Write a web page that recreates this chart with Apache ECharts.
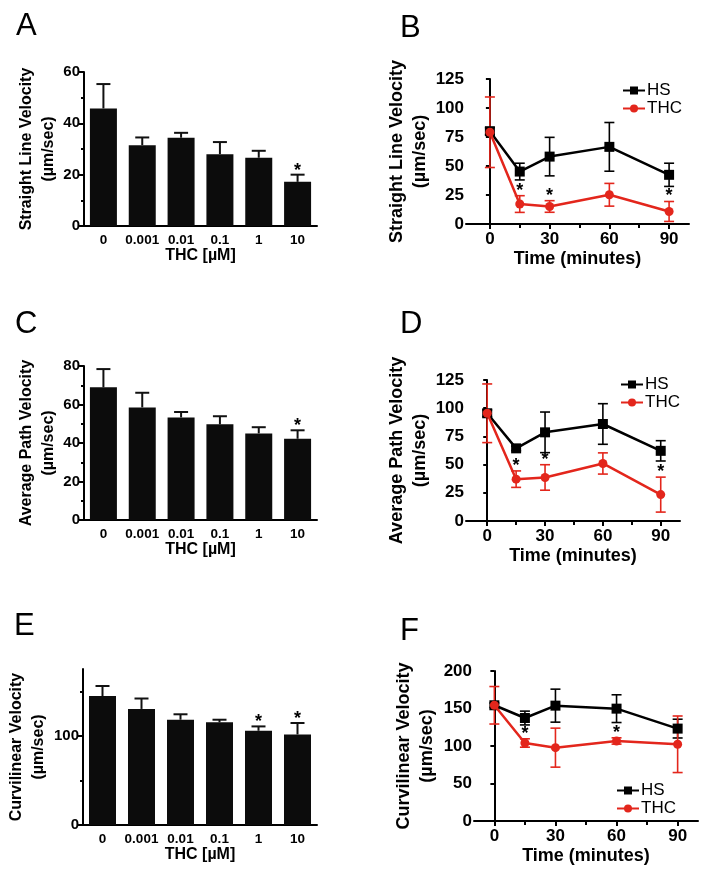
<!DOCTYPE html>
<html><head><meta charset="utf-8">
<script src="https://cdn.jsdelivr.net/npm/echarts@6/dist/echarts.min.js"></script>
<style>html,body{margin:0;padding:0;background:#fff}#c{width:709px;height:885px}</style>
</head><body><div id="c"></div>
<script>
// ---- data ----
const doseCats = ['0', '0.001', '0.01', '0.1', '1', '10'];
// A: straight line velocity vs dose
const slvMean = [45.8, 31.5, 34.4, 28.0, 26.6, 17.2];
const slvErr  = [9.5, 3.0, 1.9, 4.7, 2.7, 2.8];
const slvSig  = [0, 0, 0, 0, 0, 1];
// C: average path velocity vs dose
const apvMean = [68.9, 58.5, 53.3, 49.7, 45.0, 42.2];
const apvErr  = [9.5, 7.6, 2.8, 4.2, 3.2, 4.4];
const apvSig  = [0, 0, 0, 0, 0, 1];
// E: curvilinear velocity vs dose
const vclMean = [144.6, 130.2, 118.1, 115.2, 105.7, 101.6];
const vclErr  = [11.3, 11.7, 6.1, 2.9, 4.9, 12.8];
const vclSig  = [0, 0, 0, 0, 1, 1];

const timePts = [0, 15, 30, 60, 90];
// B: straight line velocity vs time
const slvHS     = [80.0, 45.2, 58.1, 66.5, 42.4];
const slvHSErr  = [3, 7.2, 16.6, 21.0, 10.0];
const slvTHC    = [79.1, 17.2, 15.1, 25.2, 10.8];
const slvTHCErr = [30.4, 7.2, 5.0, 9.8, 8.6];
const slvTSig   = [0, 1, 1, 0, 1];
// D: average path velocity vs time
const apvHS     = [95.5, 64.4, 78.6, 86.0, 62.2];
const apvHSErr  = [3, 2, 18.0, 18.0, 9.0];
const apvTHC    = [95.5, 37.1, 38.6, 51.0, 23.4];
const apvTHCErr = [26.0, 7.3, 11.3, 9.4, 15.5];
const apvTSig   = [0, 1, 1, 0, 1];
// F: curvilinear velocity vs time
const vclHS     = [154.3, 137.3, 153.8, 149.8, 123.2];
const vclHSErr  = [3, 9.2, 22.0, 18.5, 12.5];
const vclTHC    = [154.3, 104.0, 97.8, 106.7, 102.3];
const vclTHCErr = [25.0, 5.6, 26.0, 4.2, 37.7];
const vclTSig   = [0, 1, 0, 1, 0];

const timeTicks = [0, 30, 60, 90];
const timeMinor = [15, 45, 75];

// ---- build ----
const FONT = '"Liberation Sans", Arial, Helvetica, sans-serif';
const RED = '#e3261c';
const grids = [], xAxes = [], yAxes = [], series = [];

function barErrRender(params, api) {
  const x = api.value(0), m = api.value(1), hi = api.value(2), s = api.value(3);
  const p0 = api.coord([x, m]), p1 = api.coord([x, hi]);
  const ch = [
    {type: 'line', shape: {x1: p0[0], y1: p0[1], x2: p1[0], y2: p1[1]}, style: {stroke: '#111', lineWidth: 2}},
    {type: 'line', shape: {x1: p1[0] - 7, y1: p1[1], x2: p1[0] + 7, y2: p1[1]}, style: {stroke: '#111', lineWidth: 2}}
  ];
  if (s) ch.push({type: 'text', style: {text: '*', x: p1[0], y: p1[1] + 5, fill: '#000', font: 'bold 18px ' + FONT, textAlign: 'center', textVerticalAlign: 'bottom'}});
  return {type: 'group', children: ch};
}
function lineErrRender(color) {
  return function (params, api) {
    const x = api.value(0), lo = api.value(1), hi = api.value(2), s = api.value(3);
    const p0 = api.coord([x, lo]), p1 = api.coord([x, hi]);
    const st = {stroke: color, lineWidth: 1.6};
    const ch = [
      {type: 'line', shape: {x1: p0[0], y1: p0[1], x2: p1[0], y2: p1[1]}, style: st},
      {type: 'line', shape: {x1: p0[0] - 5, y1: p0[1], x2: p0[0] + 5, y2: p0[1]}, style: st},
      {type: 'line', shape: {x1: p1[0] - 5, y1: p1[1], x2: p1[0] + 5, y2: p1[1]}, style: st}
    ];
    if (s) ch.push({type: 'text', style: {text: '*', x: p1[0], y: p1[1] + 4, fill: '#000', font: 'bold 18px ' + FONT, textAlign: 'center', textVerticalAlign: 'bottom'}});
    return {type: 'group', children: ch};
  };
}

const axLine = {show: true, lineStyle: {color: '#000', width: 2}};

function barPanel(g, yName, ymax, labels, minor, mean, err, sig, nameGap) {
  const gi = grids.length;
  grids.push(g);
  const xi = xAxes.length;
  xAxes.push({
    type: 'category', gridIndex: gi, data: doseCats,
    axisLine: axLine, axisTick: {show: false},
    axisLabel: {interval: 0, fontSize: 13.5, fontWeight: 'bold', color: '#000', margin: 7, fontFamily: FONT},
    name: 'THC [µM]', nameLocation: 'middle', nameGap: 22,
    nameTextStyle: {fontSize: 16, fontWeight: 'bold', color: '#000', fontFamily: FONT}
  });
  const yi = yAxes.length;
  yAxes.push({
    type: 'value', gridIndex: gi, min: 0, max: ymax, position: 'left',
    axisLine: axLine,
    axisTick: {show: true, length: 5, lineStyle: {color: '#000', width: 2}, customValues: labels},
    axisLabel: {customValues: labels, fontSize: 15, fontWeight: 'bold', color: '#000', margin: 4, fontFamily: FONT},
    splitLine: {show: false},
    name: yName, nameLocation: 'middle', nameGap: nameGap,
    nameTextStyle: {fontSize: 16, fontWeight: 'bold', color: '#000', lineHeight: 22, fontFamily: FONT}
  });
  yAxes.push({
    type: 'value', gridIndex: gi, min: 0, max: ymax, position: 'left',
    axisLine: {show: false},
    axisTick: {show: true, length: 3, lineStyle: {color: '#000', width: 2}, customValues: minor},
    axisLabel: {show: false}, splitLine: {show: false}
  });
  series.push({type: 'bar', xAxisIndex: xi, yAxisIndex: yi, data: mean, barWidth: 27,
    itemStyle: {color: '#0c0c0c'}, z: 2});
  series.push({type: 'custom', xAxisIndex: xi, yAxisIndex: yi, z: 3,
    data: mean.map((m, i) => [i, m, m + err[i], sig[i]]), renderItem: barErrRender});
}

function linePanel(g, yName, xmin, ymax, yticks, hs, hsErr, thc, thcErr, sig, nameGap) {
  const gi = grids.length;
  grids.push(g);
  const xi = xAxes.length;
  xAxes.push({
    type: 'value', gridIndex: gi, min: xmin, max: 100, position: 'bottom',
    axisLine: axLine,
    axisTick: {show: true, length: 5, lineStyle: {color: '#000', width: 2}, customValues: timeTicks},
    axisLabel: {customValues: timeTicks, fontSize: 17, fontWeight: 'bold', color: '#000', margin: 7, fontFamily: FONT},
    splitLine: {show: false},
    name: 'Time (minutes)', nameLocation: 'middle', nameGap: 26,
    nameTextStyle: {fontSize: 18, fontWeight: 'bold', color: '#000', fontFamily: FONT}
  });
  xAxes.push({
    type: 'value', gridIndex: gi, min: xmin, max: 100, position: 'bottom',
    axisLine: {show: false},
    axisTick: {show: true, length: 4, lineStyle: {color: '#000', width: 2}, customValues: timeMinor},
    axisLabel: {show: false}, splitLine: {show: false}
  });
  const yi = yAxes.length;
  yAxes.push({
    type: 'value', gridIndex: gi, min: 0, max: ymax, position: 'left',
    axisLine: axLine,
    axisTick: {show: true, length: 4, lineStyle: {color: '#000', width: 2}, customValues: yticks},
    axisLabel: {customValues: yticks, fontSize: 17, fontWeight: 'bold', color: '#000', margin: 2, fontFamily: FONT},
    splitLine: {show: false},
    name: yName, nameLocation: 'middle', nameGap: nameGap,
    nameTextStyle: {fontSize: 18, fontWeight: 'bold', color: '#000', lineHeight: 23, fontFamily: FONT}
  });
  series.push({type: 'custom', name: 'HS err', xAxisIndex: xi, yAxisIndex: yi, z: 3,
    data: timePts.map((t, i) => [t, hs[i] - hsErr[i], hs[i] + hsErr[i], 0]), renderItem: lineErrRender('#000')});
  series.push({type: 'custom', name: 'THC err', xAxisIndex: xi, yAxisIndex: yi, z: 3,
    data: timePts.map((t, i) => [t, thc[i] - thcErr[i], thc[i] + thcErr[i], sig[i]]), renderItem: lineErrRender(RED)});
  series.push({type: 'line', name: 'HS', xAxisIndex: xi, yAxisIndex: yi, z: 4,
    data: timePts.map((t, i) => [t, hs[i]]), symbol: 'rect', symbolSize: 10,
    lineStyle: {color: '#000', width: 2.5}, itemStyle: {color: '#000'}});
  series.push({type: 'line', name: 'THC', xAxisIndex: xi, yAxisIndex: yi, z: 5,
    data: timePts.map((t, i) => [t, thc[i]]), symbol: 'circle', symbolSize: 9,
    lineStyle: {color: RED, width: 2.5}, itemStyle: {color: RED}});
}

barPanel({left: 84, top: 72, width: 233, height: 154}, 'Straight Line Velocity\n(µm/sec)', 60, [0, 20, 40, 60], [10, 30, 50], slvMean, slvErr, slvSig, 24);
linePanel({left: 466, top: 79, width: 223, height: 145}, 'Straight Line Velocity\n(µm/sec)', -12, 125, [0, 25, 50, 75, 100, 125], slvHS, slvHSErr, slvTHC, slvTHCErr, slvTSig, 28);
barPanel({left: 84, top: 366, width: 233, height: 154}, 'Average Path Velocity\n(µm/sec)', 80, [0, 20, 40, 60, 80], [10, 30, 50, 70], apvMean, apvErr, apvSig, 24);
linePanel({left: 466, top: 380, width: 214, height: 141}, 'Average Path Velocity\n(µm/sec)', -11, 125, [0, 25, 50, 75, 100, 125], apvHS, apvHSErr, apvTHC, apvTHCErr, apvTSig, 28);
barPanel({left: 83, top: 669, width: 234, height: 156}, 'Curvilinear Velocity\n(µm/sec)', 175, [0, 100], [50, 150], vclMean, vclErr, vclSig, 24);
linePanel({left: 474, top: 671, width: 224, height: 150}, 'Curvilinear Velocity\n(µm/sec)', -10, 200, [0, 50, 100, 150, 200], vclHS, vclHSErr, vclTHC, vclTHCErr, vclTSig, 35);

function legendAt(left, top) {
  return {data: ['HS', 'THC'], left: left, top: top, orient: 'vertical', itemWidth: 22, itemHeight: 10,
    itemGap: 1, padding: 0, selectedMode: false,
    textStyle: {fontSize: 17, color: '#000', fontFamily: FONT, padding: [0, 0, 0, -3]}};
}

function letter(t, x, y) {
  return {type: 'text', left: x, top: y, style: {text: t, fill: '#000', font: '31px ' + FONT}};
}

const chart = echarts.init(document.getElementById('c'), null, {renderer: 'canvas'});
chart.setOption({
  animation: false,
  backgroundColor: '#fff',
  textStyle: {fontFamily: FONT},
  grid: grids,
  xAxis: xAxes,
  yAxis: yAxes,
  legend: [legendAt(622, 82), legendAt(620, 376), legendAt(616, 782)],
  series: series,
  graphic: [letter('A', 16, 11), letter('B', 400, 13), letter('C', 15, 309), letter('D', 400, 309), letter('E', 14, 611), letter('F', 400, 616)]
});
</script>
</body></html>
